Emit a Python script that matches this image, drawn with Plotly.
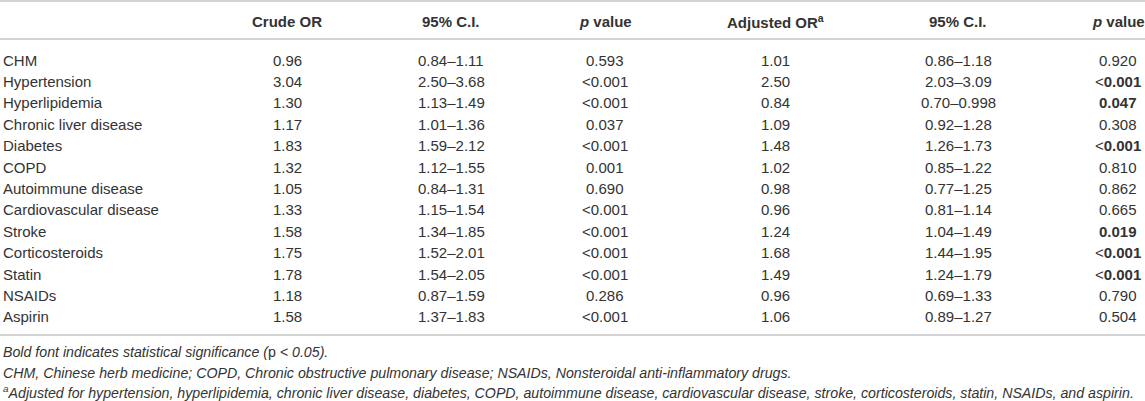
import plotly.graph_objects as go

# table data
variables = ["CHM", "Hypertension", "Hyperlipidemia", "Chronic liver disease", "Diabetes",
             "COPD", "Autoimmune disease", "Cardiovascular disease", "Stroke",
             "Corticosteroids", "Statin", "NSAIDs", "Aspirin"]
crude_or = ["0.96", "3.04", "1.30", "1.17", "1.83", "1.32", "1.05", "1.33", "1.58",
            "1.75", "1.78", "1.18", "1.58"]
crude_ci = ["0.84–1.11", "2.50–3.68", "1.13–1.49", "1.01–1.36", "1.59–2.12", "1.12–1.55",
            "0.84–1.31", "1.15–1.54", "1.34–1.85", "1.52–2.01", "1.54–2.05", "0.87–1.59",
            "1.37–1.83"]
crude_p = ["0.593", "<0.001", "<0.001", "0.037", "<0.001", "0.001", "0.690", "<0.001",
           "<0.001", "<0.001", "<0.001", "0.286", "<0.001"]
adj_or = ["1.01", "2.50", "0.84", "1.09", "1.48", "1.02", "0.98", "0.96", "1.24",
          "1.68", "1.49", "0.96", "1.06"]
adj_ci = ["0.86–1.18", "2.03–3.09", "0.70–0.998", "0.92–1.28", "1.26–1.73", "0.85–1.22",
          "0.77–1.25", "0.81–1.14", "1.04–1.49", "1.44–1.95", "1.24–1.79", "0.69–1.33",
          "0.89–1.27"]
adj_p = ["0.920", "<0.001", "0.047", "0.308", "<0.001", "0.810", "0.862", "0.665",
         "0.019", "<0.001", "<0.001", "0.790", "0.504"]

headers = ["Crude OR", "95% C.I.", "<i>p</i> value", "Adjusted OR<sup>a</sup>",
           "95% C.I.", "<i>p</i> value"]
footnotes = [
    "<i>Bold font indicates statistical significance (</i>p<i> &lt; 0.05).</i>",
    "<i>CHM, Chinese herb medicine; COPD, Chronic obstructive pulmonary disease; "
    "NSAIDs, Nonsteroidal anti-inflammatory drugs.</i>",
    "<i><sup>a</sup>Adjusted for hypertension, hyperlipidemia, chronic liver disease, "
    "diabetes, COPD, autoimmune disease, cardiovascular disease, stroke, "
    "corticosteroids, statin, NSAIDs, and aspirin.</i>",
]

W, H = 1145, 401
col_x = [1, 287, 451, 605, 775, 958, 1118]
header_y = 21
row_y0 = 60
row_step = 21.4
foot_y = [352, 372.5, 391.5]
txt = "#333333"
font = "Liberation Sans, Arial, sans-serif"


def fmt_p(p, bold):
    s = p.replace("<", "&lt;")
    if not bold:
        return s
    if s.startswith("&lt;"):
        return "&lt;<b>" + s[4:] + "</b>"
    return "<b>" + s + "</b>"


fig = go.Figure()
ann = []

for j, h in enumerate(headers):
    ann.append(dict(x=col_x[j + 1], y=header_y, text="<b>" + h + "</b>", xanchor="center"))

for i, v in enumerate(variables):
    y = row_y0 + i * row_step
    sig = adj_p[i].startswith("<") or float(adj_p[i]) < 0.05
    cells = [crude_or[i], crude_ci[i], crude_p[i].replace("<", "&lt;"),
             adj_or[i], adj_ci[i], fmt_p(adj_p[i], sig)]
    ann.append(dict(x=col_x[0], y=y, text=v, xanchor="left"))
    for j, c in enumerate(cells):
        ann.append(dict(x=col_x[j + 1], y=y, text=c, xanchor="center"))

for k, f in enumerate(footnotes):
    ann.append(dict(x=col_x[0], y=foot_y[k], text=f, xanchor="left",
                    font=dict(size=14.2, color=txt, family=font)))

for a in ann:
    a.update(xref="x", yref="y", yanchor="middle", showarrow=False)
    a.setdefault("font", dict(size=15, color=txt, family=font))

line_y = [1, 39, 335]
for ly in line_y:
    fig.add_shape(type="line", xref="x", yref="y", x0=0, x1=W, y0=ly, y1=ly,
                  line=dict(color="#d4d4d4", width=2))

fig.update_layout(
    width=W, height=H,
    margin=dict(l=0, r=0, t=0, b=0),
    paper_bgcolor="white", plot_bgcolor="white",
    annotations=ann,
    xaxis=dict(range=[0, W], visible=False, fixedrange=True),
    yaxis=dict(range=[H, 0], visible=False, fixedrange=True),
    showlegend=False,
)

fig.write_html("out.html", config=dict(displayModeBar=False))

# drop the default body margin so the figure fills the window
with open("out.html", encoding="utf-8") as fh:
    page = fh.read()
page = page.replace("<body>", '<body style="margin:0;overflow:hidden">', 1)
with open("out.html", "w", encoding="utf-8") as fh:
    fh.write(page)
